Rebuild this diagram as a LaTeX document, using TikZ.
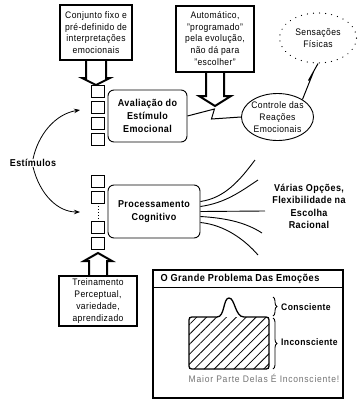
\documentclass[tikz,border=0pt]{standalone}
\usepackage{fontspec}
\setmainfont{Liberation Sans}[LetterSpace=4,FakeStretch=0.9]
\newfontfamily\widefont{Liberation Sans}[LetterSpace=8,FakeStretch=0.9]
\usetikzlibrary{calc,shapes.geometric,patterns.meta,decorations.pathreplacing,arrows.meta}
\begin{document}
\begin{tikzpicture}[x=1pt,y=-1pt,
  thickbox/.style={draw,line width=2pt,fill=white,align=center,inner sep=0pt,font=\fontsize{9.5}{11.7}\selectfont},
  rbox/.style={draw,line width=0.9pt,rounded corners=6pt,fill=white,align=center,inner sep=0pt,font=\bfseries\fontsize{10}{12.8}\selectfont},
  sq/.style={draw,line width=0.8pt,minimum width=13pt,minimum height=12pt,inner sep=0pt},
  arrowshape/.style={draw,line width=2pt,line join=miter},
  txt/.style={align=center,inner sep=0pt,font=\fontsize{9.5}{12}\selectfont},
  btxt/.style={align=center,inner sep=0pt,font=\bfseries\fontsize{10}{12.4}\selectfont},
  link/.style={line width=1pt,line join=miter},
  fan/.style={line width=0.9pt},
  curvearrow/.style={line width=0.8pt,-{Stealth[length=6pt,width=4.5pt]}}
]
\fill[white] (0,0) rectangle (361,405);
\useasboundingbox (0,0) rectangle (361,405);

% top boxes
\node[thickbox,minimum width=72pt,minimum height=55pt] (b1) at (96,32.5) {Conjunto fixo e\\pré-definido de\\interpretações\\emocionais};
\node[thickbox,minimum width=78pt,minimum height=66pt] (b2) at (215,38.5) {Automático,\\"programado"\\pela evolução,\\não dá para\\"escolher"};
\node[thickbox,minimum width=78pt,minimum height=50pt] (b3) at (98,301) {Treinamento\\Perceptual,\\variedade,\\aprendizado};

\draw[arrowshape] ($(b1.south)+(-10,0)$) -- ++(0,17) -- ++(-4,0) -- ++(14,7) -- ++(14,-7) -- ++(-4,0) -- ++(0,-17);
\draw[arrowshape] ($(b2.south)+(-9,0)$) -- ++(0,23.5) -- ++(-7,0) -- ++(16,10) -- ++(16,-10) -- ++(-7,0) -- ++(0,-23.5);
\draw[arrowshape] ($(b3.north)+(-9,0)$) -- ++(0,-14) -- ++(-5,0) -- ++(14,-8) -- ++(14,8) -- ++(-5,0) -- ++(0,14);

% squares
\node[sq] (s1) at (98,91) {};
\node[sq] (s2) at (98,107) {};
\node[sq] (s3) at (98,123) {};
\node[sq] (s4) at (98,139) {};
\node[sq] (t1) at (98,181) {};
\node[sq] (t2) at (98,197) {};
\node[sq] (t3) at (98,227.5) {};
\node[sq] (t4) at (98,243) {};
\draw[line width=0.9pt,dotted] (t2.south) -- (t3.north);

% main boxes
\node[rbox,minimum width=79pt,minimum height=52pt] (aval) at (147.5,116) {Avaliação do\\Estímulo\\Emocional};
\node[rbox,minimum width=92pt,minimum height=53pt] (proc) at (154,211.5) {Processamento\\Cognitivo};

% ellipses
\node[draw,ellipse,line width=0.9pt,minimum width=72pt,minimum height=47pt,inner sep=0pt] (ctrl) at (277.5,117) {};
\node[txt] (ctrltxt) at (ctrl.center) {Controle das\\Reações\\Emocionais};
\node[draw,ellipse,line width=1.2pt,dash pattern=on 0.1pt off 6pt,line cap=round,minimum width=77pt,minimum height=50pt,inner sep=0pt] (sens) at (318,38) {};
\node[txt] (senstxt) at (sens.center) {Sensações\\Físicas};

% zigzag links
\draw[link] (aval.east) -- ++(27,-7) -- ++(-3,10) -- (ctrl.west);
\draw[link] (ctrl.35) -- ++(10,-25) -- ++(-4,6) -- (sens.south);

% stimuli
\node[btxt] (estim) at (33,163) {Estímulos};
\coordinate (a1) at (80,110);
\coordinate (a2) at (80,212);
\draw[curvearrow] (estim.north) .. controls (38,135) and (55,114) .. (a1);
\draw[curvearrow] (estim.south) .. controls (40,195) and (58,212) .. (a2);

% fan
\coordinate (f1) at (255,160);
\coordinate (f2) at (258,180);
\coordinate (f3) at (265,211);
\coordinate (f4) at (262,233);
\coordinate (f5) at (258,255);
\draw[fan] ($(proc.east)+(0,-10)$) .. controls (225,198) and (240,180) .. (f1);
\draw[fan] ($(proc.east)+(0,-5)$) .. controls (225,203) and (240,192) .. (f2);
\draw[fan] ($(proc.east)+(0,0)$) -- (f3);
\draw[fan] ($(proc.east)+(0,5)$) .. controls (225,218) and (245,222) .. (f4);
\draw[fan] ($(proc.east)+(0,11)$) .. controls (225,225) and (245,240) .. (f5);
\node[btxt] (varias) at (309,206.5) {Várias Opções,\\Flexibilidade na\\Escolha\\Racional};

% big box
\node[draw,line width=1.2pt,minimum width=190pt,minimum height=128pt,inner sep=0pt] (big) at (248,334) {};
\draw[line width=1pt] ($(big.north west)+(0,18)$) -- ($(big.north east)+(0,18)$);
\node[anchor=west,inner sep=0pt,font=\bfseries\fontsize{10.2}{11}\selectfont] (title) at ($(big.north west)+(8,9)$) {O Grande Problema Das Emoções};

\fill[pattern={Lines[angle=45,distance=7pt,line width=0.8pt]}] (195,317) -- (263,317) .. controls (269,317) .. (269,323) -- (269,363) .. controls (269,369) .. (263,369) -- (195,369) .. controls (189,369) .. (189,363) -- (189,323) .. controls (189,317) .. (195,317) -- cycle;
\draw[line width=1.3pt] (195,317) -- (217,317) .. controls (225,317) and (223,298) .. (229,298) .. controls (235,298) and (235,317) .. (244,317) -- (263,317) .. controls (269,317) .. (269,323) -- (269,363) .. controls (269,369) .. (263,369) -- (195,369) .. controls (189,369) .. (189,363) -- (189,323) .. controls (189,317) .. (195,317) -- cycle;

\coordinate (br1) at (273,297);
\coordinate (br2) at (273,316);
\coordinate (br3) at (273,318);
\coordinate (br4) at (273,369);
\draw[line width=0.9pt,decorate,decoration={brace,amplitude=4pt}] (br1) -- (br2);
\draw[line width=0.9pt,decorate,decoration={brace,amplitude=4pt}] (br3) -- (br4);
\node[anchor=west,inner sep=0pt,font=\bfseries\fontsize{9.5}{10}\selectfont] (consc) at (281,307) {Consciente};
\node[anchor=west,inner sep=0pt,font=\bfseries\fontsize{9.5}{10}\selectfont] (incon) at (281,342) {Inconsciente};
\node[inner sep=0pt,text=black!55,font=\widefont\fontsize{9.5}{11}\selectfont] (maior) at (264,378.5) {Maior Parte Delas É Inconsciente!};
\end{tikzpicture}
\end{document}
